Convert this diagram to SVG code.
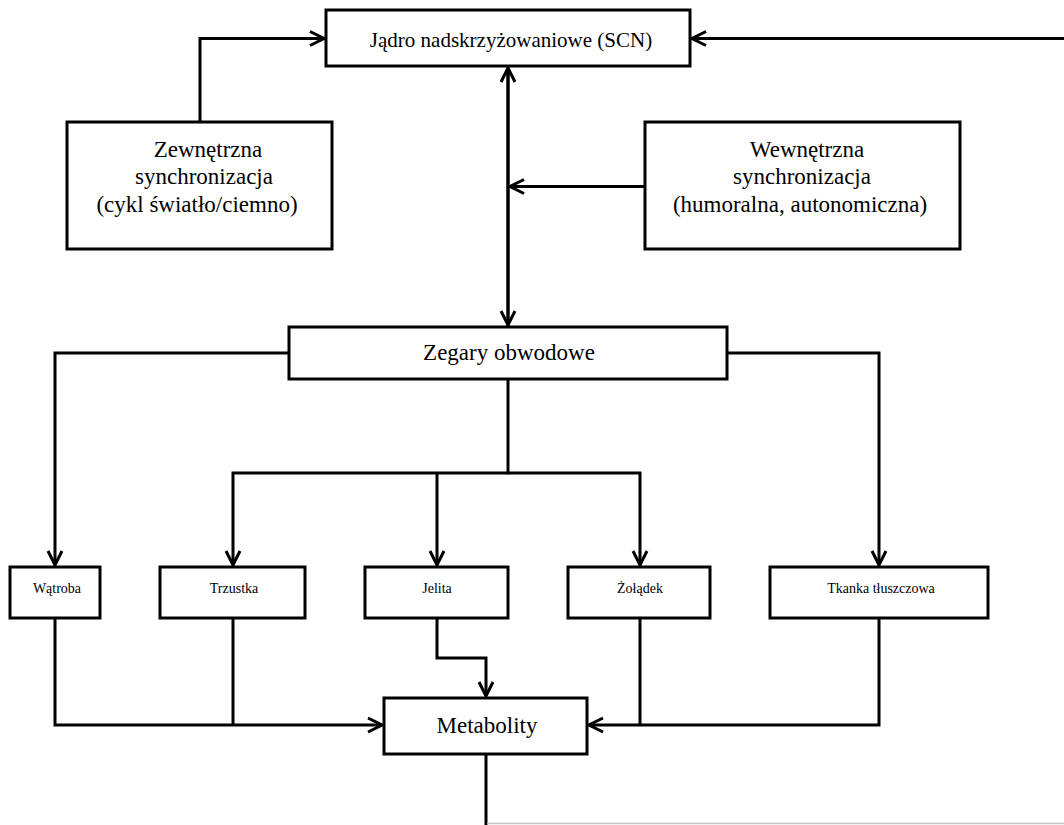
<svg xmlns="http://www.w3.org/2000/svg" width="1064" height="825" viewBox="0 0 1064 825">
<style>
.box{fill:#fff;stroke:#000;stroke-width:3}
.ln{fill:none;stroke:#000;stroke-width:3;stroke-linejoin:miter}
.t{font-family:"Liberation Serif","Times New Roman",serif;fill:#000;text-anchor:middle}
.big{font-size:23px}
.mid{font-size:21px}
.sm{font-size:14px}
</style>
<defs>
<marker id="arr" viewBox="-17 -10 19 20" refX="0" refY="0" markerWidth="19" markerHeight="20" markerUnits="userSpaceOnUse" orient="auto">
<path d="M-14,-7 L0,0 L-14,7" fill="none" stroke="#000" stroke-width="3"/>
</marker>
</defs>
<rect width="1064" height="825" fill="#fff"/>
<g id="connectors">
<path class="ln" d="M200,122 V38.5 H324" marker-end="url(#arr)"/>
<path class="ln" d="M1064,38.5 H692" marker-end="url(#arr)"/>
<path class="ln" d="M508,326 V68" marker-end="url(#arr)"/>
<path class="ln" d="M508,70 V325" marker-end="url(#arr)"/>
<path class="ln" d="M645,186.5 H510" marker-end="url(#arr)"/>
<path class="ln" d="M289,353 H55 V565" marker-end="url(#arr)"/>
<path class="ln" d="M727,353 H879 V565" marker-end="url(#arr)"/>
<path class="ln" d="M508,379 V473 H233 V565" marker-end="url(#arr)"/>
<path class="ln" d="M437,473 V565" marker-end="url(#arr)"/>
<path class="ln" d="M508,473 H640 V565" marker-end="url(#arr)"/>
<path class="ln" d="M55,618 V725 H382" marker-end="url(#arr)"/>
<path class="ln" d="M233,618 V725"/>
<path class="ln" d="M437,618 V658 H486 V696" marker-end="url(#arr)"/>
<path class="ln" d="M879,618 V725 H589" marker-end="url(#arr)"/>
<path class="ln" d="M640,618 V725"/>
<path class="ln" d="M486,754 V825"/>
<path d="M487,823.5 H1064" fill="none" stroke="#c4c4c4" stroke-width="1.5"/>
</g>
<g id="scn">
<rect class="box" x="326" y="10" width="364" height="56"/>
<text class="t mid" x="511" y="47">Jądro nadskrzyżowaniowe (SCN)</text>
</g>
<g id="zewnetrzna">
<rect class="box" x="67" y="122" width="265" height="127"/>
<text class="t big" x="208" y="157">Zewnętrzna</text>
<text class="t big" x="204" y="184">synchronizacja</text>
<text class="t big" x="197" y="212">(cykl światło/ciemno)</text>
</g>
<g id="wewnetrzna">
<rect class="box" x="645" y="122" width="315" height="127"/>
<text class="t big" x="807" y="157">Wewnętrzna</text>
<text class="t big" x="802" y="184">synchronizacja</text>
<text class="t big" x="800" y="212">(humoralna, autonomiczna)</text>
</g>
<g id="zegary">
<rect class="box" x="289" y="327" width="438" height="52"/>
<text class="t big" x="509" y="360">Zegary obwodowe</text>
</g>
<g id="watroba">
<rect class="box" x="10" y="567" width="90" height="51"/>
<text class="t sm" x="57" y="593">Wątroba</text>
</g>
<g id="trzustka">
<rect class="box" x="160" y="567" width="145" height="51"/>
<text class="t sm" x="234" y="593">Trzustka</text>
</g>
<g id="jelita">
<rect class="box" x="365" y="567" width="143" height="51"/>
<text class="t sm" x="437" y="593">Jelita</text>
</g>
<g id="zoladek">
<rect class="box" x="568" y="567" width="142" height="51"/>
<text class="t sm" x="640" y="593">Żołądek</text>
</g>
<g id="tkanka">
<rect class="box" x="770" y="567" width="218" height="51"/>
<text class="t sm" x="881" y="593">Tkanka tłuszczowa</text>
</g>
<g id="metabolity">
<rect class="box" x="384" y="698" width="203" height="56"/>
<text class="t big" x="487" y="733">Metabolity</text>
</g>
</svg>
